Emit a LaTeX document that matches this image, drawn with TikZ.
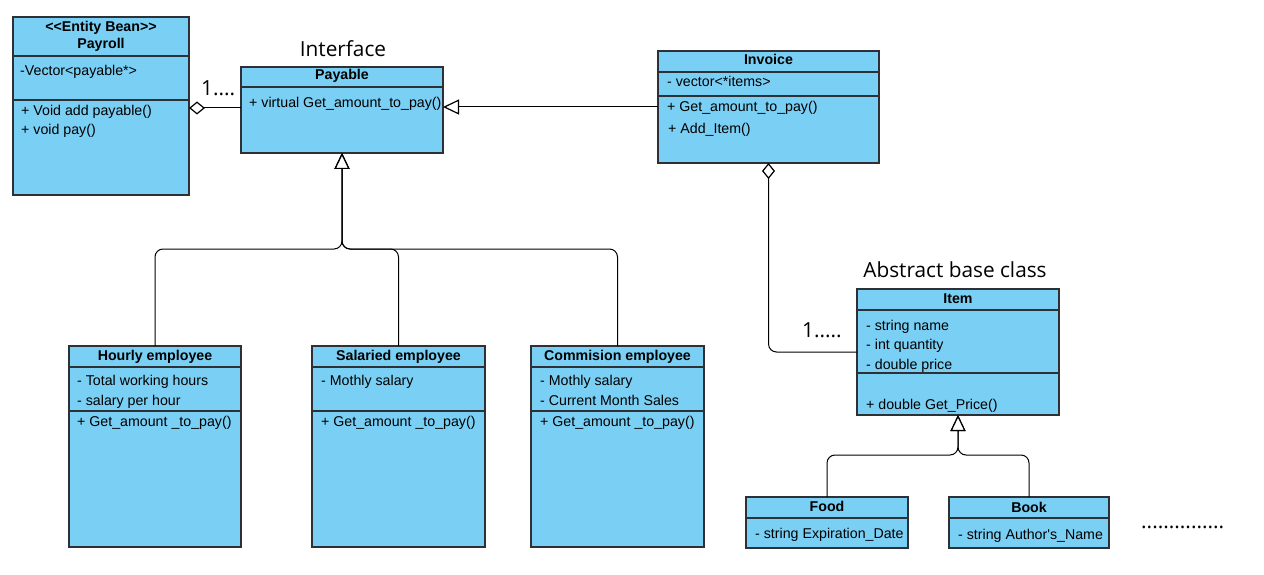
\documentclass[tikz,border=0pt]{standalone}
\usepackage{fontspec}
\setmainfont{Liberation Sans}[Ligatures=TeXOff]
\newfontfamily\osans{Open Sans}[Ligatures=TeXOff]
\usetikzlibrary{arrows.meta}
\definecolor{clsfill}{RGB}{122,207,244}
\definecolor{clsline}{RGB}{45,48,52}
\tikzset{
  cls/.style={rectangle, draw=clsline, line width=1.3pt, fill=clsfill, inner sep=0pt, outer sep=0pt, anchor=north west},
  sepline/.style={draw=clsline, line width=1.2pt},
  txt/.style={anchor=base west, inner sep=0pt, font=\fontsize{14.2}{17}\selectfont},
  ttl/.style={anchor=base, inner sep=0pt, font=\fontsize{14.2}{17}\selectfont\bfseries},
  lbl/.style={anchor=base, inner sep=0pt, font=\osans\fontsize{20.8}{24}\selectfont},
  lblw/.style={anchor=base west, inner sep=0pt, font=\osans\fontsize{20.8}{24}\selectfont},
  inh/.style={draw=black, line width=1pt, rounded corners=8pt, -{Triangle[length=16pt,width=15pt,fill=white,line width=1.2pt]}},
  agg/.style={draw=black, line width=1pt, rounded corners=8pt, -{Diamond[length=16pt,width=13pt,fill=white,line width=1.2pt]}}
}
\begin{document}
\begin{tikzpicture}[x=1pt,y=-1pt]
\useasboundingbox[fill=white] (0,0) rectangle (1264,575);

% ---- class boxes
\node[cls, minimum width=176pt, minimum height=178pt] (payroll) at (13,17) {};
\draw[sepline] (13,56) -- (189,56);
\draw[sepline] (13,100) -- (189,100);

\node[cls, minimum width=202pt, minimum height=86pt] (payable) at (241,67) {};
\draw[sepline] (241,87) -- (443,87);

\node[cls, minimum width=221pt, minimum height=112pt] (invoice) at (658,51) {};
\draw[sepline] (658,72) -- (879,72);
\draw[sepline] (658,96) -- (879,96);

\node[cls, minimum width=202pt, minimum height=126pt] (item) at (857,289) {};
\draw[sepline] (857,310) -- (1059,310);
\draw[sepline] (857,373) -- (1059,373);

\node[cls, minimum width=172pt, minimum height=201pt] (hourly) at (69,346) {};
\draw[sepline] (69,367) -- (241,367);
\draw[sepline] (69,411) -- (241,411);

\node[cls, minimum width=173pt, minimum height=201pt] (salaried) at (312,346) {};
\draw[sepline] (312,367) -- (485,367);
\draw[sepline] (312,411) -- (485,411);

\node[cls, minimum width=173pt, minimum height=201pt] (commision) at (531,346) {};
\draw[sepline] (531,367) -- (704,367);
\draw[sepline] (531,411) -- (704,411);

\node[cls, minimum width=162pt, minimum height=51pt] (food) at (746,497) {};
\draw[sepline] (746,518) -- (908,518);

\node[cls, minimum width=160pt, minimum height=51pt] (book) at (949,497) {};
\draw[sepline] (949,518) -- (1109,518);

% ---- texts
\node[ttl] (payrollS) at (101,32) {<\kern0pt<Entity Bean>\kern0pt>};
\node[ttl] (payrollN) at (101,49) {Payroll};
\node[txt] (payrollA) at (20,76) {-Vector<payable*>};
\node[txt] (payrollM1) at (21,115.5) {+ Void add payable()};
\node[txt] (payrollM2) at (21,135) {+ void pay()};

\node[lbl] (ifaceL) at (343,57) {Interface};
\node[lblw] (mult1) at (201,96) {1....};
\node[ttl] (payableN) at (342,79.5) {Payable};
\node[txt] (payableM) at (249,108) {+ virtual Get\_amount\_to\_pay()};

\node[ttl] (invoiceN) at (768.5,65) {Invoice};
\node[txt] (invoiceA) at (667,87) {- vector<*items>};
\node[txt] (invoiceM1) at (667,111.5) {+ Get\_amount\_to\_pay()};
\node[txt] (invoiceM2) at (668,134) {+ Add\_Item()};

\node[lbl] (absL) at (955,277) {Abstract base class};
\node[lblw] (mult2) at (802,337) {1.....};
\node[ttl] (itemN) at (958,303) {Item};
\node[txt] (itemA1) at (866,330) {- string name};
\node[txt] (itemA2) at (866,349.5) {- int quantity};
\node[txt] (itemA3) at (866,369) {- double price};
\node[txt] (itemM) at (866,409) {+ double Get\_Price()};

\node[ttl] (hourlyN) at (155,360) {Hourly employee};
\node[txt] (hourlyA1) at (77,385) {- Total working hours};
\node[txt] (hourlyA2) at (77,405) {- salary per hour};
\node[txt] (hourlyM) at (77,426) {+ Get\_amount \_to\_pay()};

\node[ttl] (salariedN) at (398.5,360) {Salaried employee};
\node[txt] (salariedA1) at (321,385) {- Mothly salary};
\node[txt] (salariedM) at (321,426) {+ Get\_amount \_to\_pay()};

\node[ttl] (commisionN) at (617.5,360) {Commision employee};
\node[txt] (commisionA1) at (540,385) {- Mothly salary};
\node[txt] (commisionA2) at (540,405) {- Current Month Sales};
\node[txt] (commisionM) at (540,426) {+ Get\_amount \_to\_pay()};

\node[ttl] (foodN) at (827,511) {Food};
\node[txt] (foodA) at (755,538) {- string Expiration\_Date};

\node[ttl] (bookN) at (1029,512) {Book};
\node[txt] (bookA) at (958,539) {- string Author's\_Name};

\node[lblw] (moreDots) at (1141,528) {...............};

% ---- connectors
\coordinate (y108) at (0,108);
\draw[agg] (payable.west |- y108) -- (payroll.east |- y108);
\draw[inh] (invoice.west) -- (payable.east |- invoice.west);
\draw[agg] (item.west) -| (invoice.south);

\path (payable.south) ++(0,96) coordinate (j1);
\draw[inh] (hourly.north) |- (j1) -- (payable.south);
\draw[inh] (salaried.north) |- (j1) -- (payable.south);
\draw[inh] (commision.north) |- (j1) -- (payable.south);

\path (item.south) ++(0,40) coordinate (j2);
\draw[inh] (food.north) |- (j2) -- (item.south);
\draw[inh] (book.north) |- (j2) -- (item.south);
\end{tikzpicture}
\end{document}
